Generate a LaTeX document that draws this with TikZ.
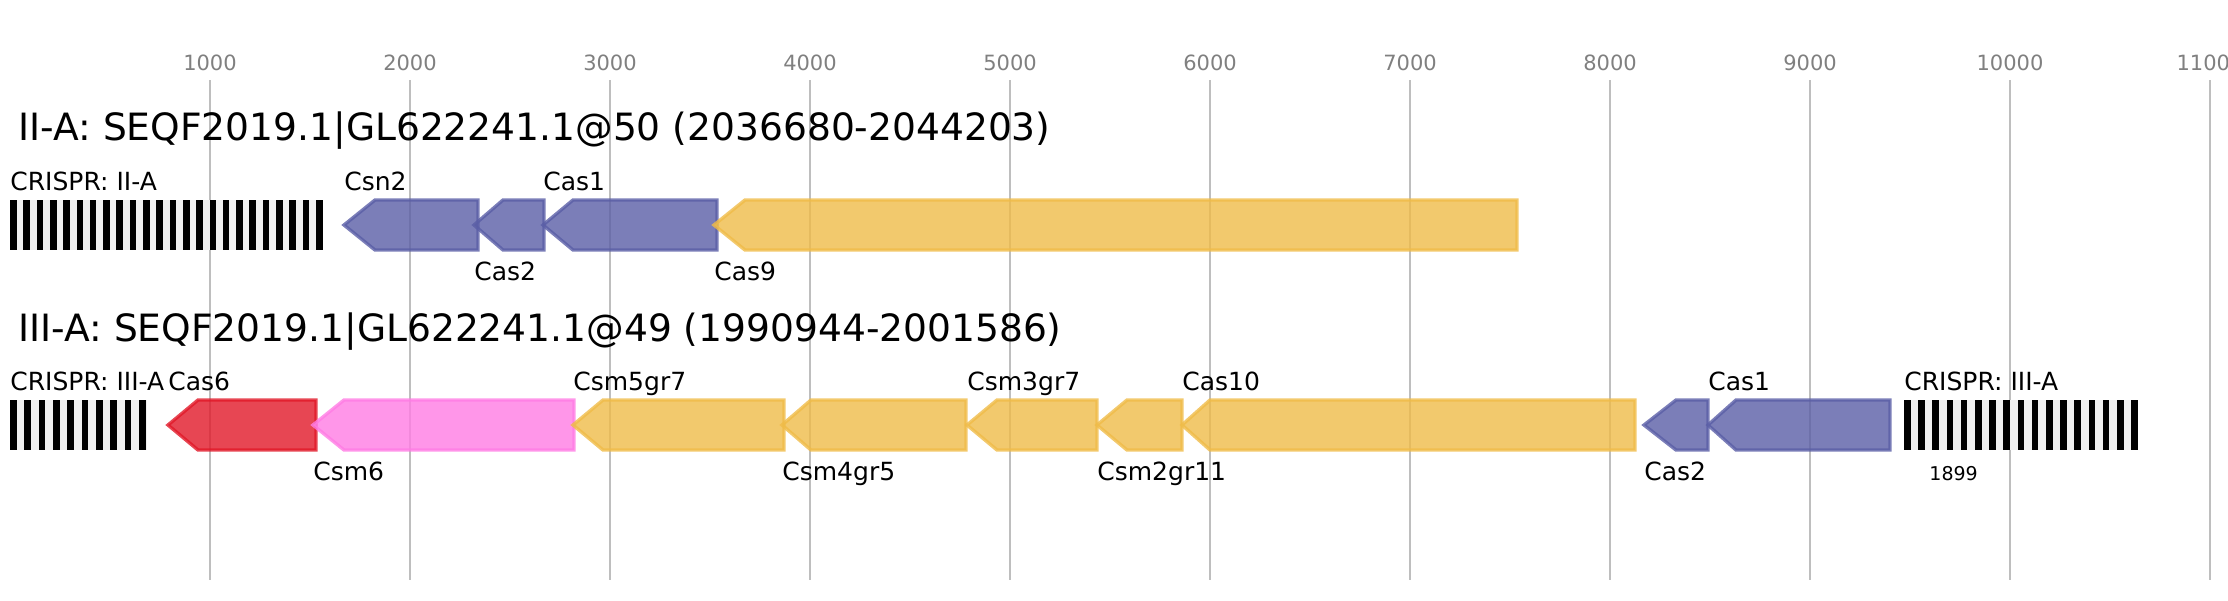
\documentclass[tikz,border=0pt]{standalone}
\usepackage{fontspec}
\setmainfont{DejaVu Sans}

\definecolor{casblue}{RGB}{90,94,166}
\definecolor{casyellow}{RGB}{239,187,72}
\definecolor{casred}{RGB}{225,24,40}
\definecolor{caspink}{RGB}{255,124,228}
\definecolor{gridgray}{RGB}{190,190,190}
\definecolor{tickgray}{RGB}{128,128,128}
\definecolor{arraybg}{RGB}{240,240,240}

\begin{document}
\begin{tikzpicture}[x=0.5pt, y=-0.5pt,
    gridline/.style={draw=gridgray, line width=1pt},
    ticklabel/.style={text=tickgray, font=\fontsize{10.5}{12}\selectfont, anchor=base, inner sep=0pt},
    title/.style={font=\fontsize{18.8}{22}\selectfont, anchor=base west, inner sep=0pt},
    genelabel/.style={font=\fontsize{12.5}{15}\selectfont, anchor=base west, inner sep=0pt},
    gene/.style={draw=#1, fill=#1, opacity=0.8, line width=1.7pt, line join=miter},
    spacer/.style={fill=black}]

    \useasboundingbox (0,0) rectangle (2228,600);

    % scale: 1000 bp every 200 px
    \foreach \k in {1,...,11} {
        \draw[gridline] (10+200*\k,80) -- (10+200*\k,580);
        \node[ticklabel] (tick\k) at (10+200*\k,70) {\k000};
    }

    % II-A
    \node[title] (titleA) at (18,140) {II-A: SEQF2019.1|GL622241.1@50 (2036680-2044203)};

    \fill[arraybg] (10,200) rectangle (322,250);
    \foreach \i in {0,...,23}
        \fill[spacer] (10+13.3*\i,200) rectangle +(6.67,50);
    \node[genelabel] (crisprA) at (10,190) {CRISPR: II-A};

    \draw[gene=casblue] (478,200) -- (375,200) -- (344,225) -- (375,250) -- (478,250) -- cycle;
    \node[genelabel] (csnA) at (344,190) {Csn2};
    \draw[gene=casblue] (544,200) -- (503,200) -- (474,225) -- (503,250) -- (544,250) -- cycle;
    \node[genelabel] (castwoA) at (474,280) {Cas2};
    \draw[gene=casblue] (717,200) -- (573,200) -- (543,225) -- (573,250) -- (717,250) -- cycle;
    \node[genelabel] (casoneA) at (543,190) {Cas1};
    \draw[gene=casyellow] (1517,200) -- (745,200) -- (714,225) -- (745,250) -- (1517,250) -- cycle;
    \node[genelabel] (casnineA) at (714,280) {Cas9};

    % III-A
    \node[title] (titleB) at (18,341) {III-A: SEQF2019.1|GL622241.1@49 (1990944-2001586)};

    \fill[arraybg] (10,400) rectangle (147,450);
    \foreach \i in {0,...,9}
        \fill[spacer] (10+14.33*\i,400) rectangle +(6.67,50);
    \node[genelabel] (crisprB) at (10,390) {CRISPR: III-A};

    \draw[gene=casred] (316,400) -- (198,400) -- (168,425) -- (198,450) -- (316,450) -- cycle;
    \node[genelabel] (cassixB) at (168,390) {Cas6};
    \draw[gene=caspink] (574,400) -- (344,400) -- (313,425) -- (344,450) -- (574,450) -- cycle;
    \node[genelabel] (csmsixB) at (313,480) {Csm6};
    \draw[gene=casyellow] (784,400) -- (603,400) -- (573,425) -- (603,450) -- (784,450) -- cycle;
    \node[genelabel] (csmfiveB) at (573,390) {Csm5gr7};
    \draw[gene=casyellow] (966,400) -- (811,400) -- (782,425) -- (811,450) -- (966,450) -- cycle;
    \node[genelabel] (csmfourB) at (782,480) {Csm4gr5};
    \draw[gene=casyellow] (1097,400) -- (997,400) -- (967,425) -- (997,450) -- (1097,450) -- cycle;
    \node[genelabel] (csmthreeB) at (967,390) {Csm3gr7};
    \draw[gene=casyellow] (1182,400) -- (1127,400) -- (1097,425) -- (1127,450) -- (1182,450) -- cycle;
    \node[genelabel] (csmtwoB) at (1097,480) {Csm2gr11};
    \draw[gene=casyellow] (1635,400) -- (1210,400) -- (1182,425) -- (1210,450) -- (1635,450) -- cycle;
    \node[genelabel] (castenB) at (1182,390) {Cas10};
    \draw[gene=casblue] (1708,400) -- (1676,400) -- (1644,425) -- (1676,450) -- (1708,450) -- cycle;
    \node[genelabel] (castwoB) at (1644,480) {Cas2};
    \draw[gene=casblue] (1890,400) -- (1736,400) -- (1708,425) -- (1736,450) -- (1890,450) -- cycle;
    \node[genelabel] (casoneB) at (1708,390) {Cas1};

    \fill[arraybg] (1904,400) rectangle (2138,450);
    \foreach \i in {0,...,16}
        \fill[spacer] (1904+14.2*\i,400) rectangle +(6.67,50);
    \node[genelabel] (crisprC) at (1904,390) {CRISPR: III-A};
    \node[genelabel, font=\fontsize{9.5}{11}\selectfont] (distC) at (1929,480) {1899};
\end{tikzpicture}
\end{document}
